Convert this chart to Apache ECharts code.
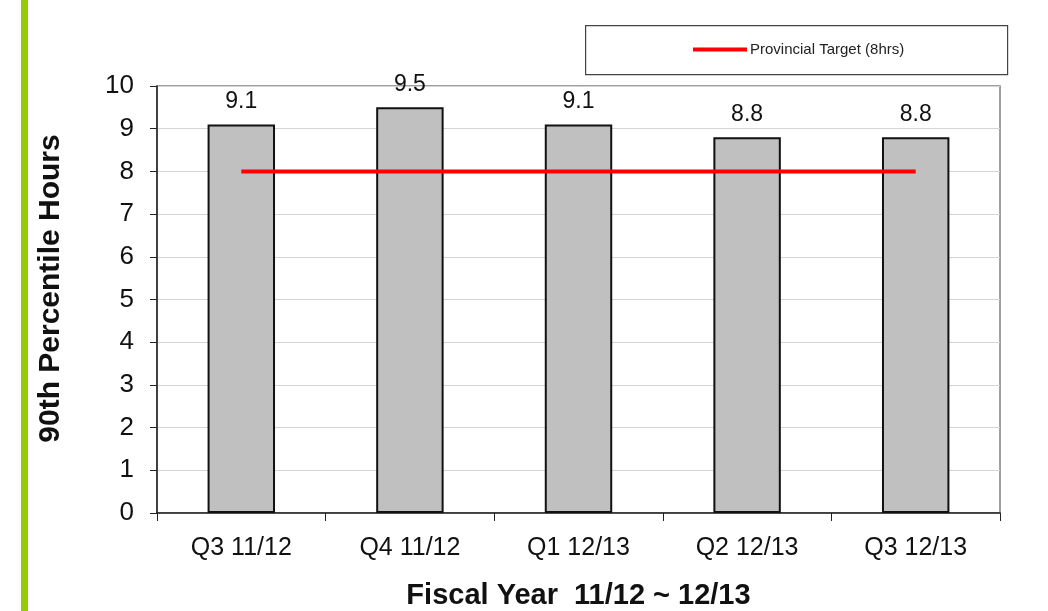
<!DOCTYPE html>
<html>
<head>
<meta charset="utf-8">
<script src="https://cdn.jsdelivr.net/npm/echarts@6/dist/echarts.min.js"></script>
<style>
  html, body { margin: 0; padding: 0; background: #fff; }
  #chart { width: 1048px; height: 611px; }
</style>
</head>
<body>
<div id="chart"></div>
<script>
// Quarterly 90th percentile hours vs. provincial target
const quarters = ['Q3 11/12', 'Q4 11/12', 'Q1 12/13', 'Q2 12/13', 'Q3 12/13'];
const hours = [9.1, 9.5, 9.1, 8.8, 8.8];
const target = [8, 8, 8, 8, 8];
const yTicks = { min: 0, max: 10, interval: 1 };

const font = '"Liberation Sans", Arial, sans-serif';
const chart = echarts.init(document.getElementById('chart'), null, { renderer: 'canvas' });

chart.setOption({
  animation: false,
  backgroundColor: '#ffffff',
  textStyle: { fontFamily: font },
  graphic: [
    { type: 'rect', left: 21, top: 0, shape: { width: 7, height: 611 }, style: { fill: '#99cc00' }, z: 0 },
    { type: 'rect', left: 585, top: 25, shape: { width: 422, height: 49 },
      style: { fill: '#ffffff', stroke: '#444444', lineWidth: 1.2 }, z: 0 }
  ],
  legend: {
    data: ['Provincial Target (8hrs)'],
    left: 688, top: 37,
    icon: 'rect', itemWidth: 54, itemHeight: 4, itemGap: 4,
    textStyle: { fontSize: 15, color: '#222', fontFamily: font, padding: [0, 0, 0, -2] },
    z: 5
  },
  grid: {
    left: 157, right: 48, top: 86, bottom: 98,
    outerBoundsMode: 'none',
    show: true, borderColor: '#808080', borderWidth: 1.5, backgroundColor: 'transparent'
  },
  xAxis: {
    type: 'category',
    data: quarters,
    boundaryGap: true,
    name: 'Fiscal Year  11/12 ~ 12/13',
    nameLocation: 'middle',
    nameGap: 68,
    nameTextStyle: { fontSize: 29, fontWeight: 'bold', color: '#111', fontFamily: font },
    axisLine: { lineStyle: { color: '#222', width: 1.5 } },
    axisTick: { show: true, length: 8, inside: false, lineStyle: { color: '#222' } },
    axisLabel: { fontSize: 25, color: '#111', margin: 23, fontFamily: font },
    splitLine: { show: false }
  },
  yAxis: {
    type: 'value',
    min: yTicks.min, max: yTicks.max, interval: yTicks.interval,
    name: '90th Percentile Hours',
    nameLocation: 'middle',
    nameGap: 91,
    nameRotate: 90,
    nameTextStyle: { fontSize: 30, fontWeight: 'bold', color: '#111', fontFamily: font, padding: [0, 0, 0, 22] },
    axisLine: { show: true, lineStyle: { color: '#222', width: 1.5 } },
    axisTick: { show: true, length: 7, inside: false, lineStyle: { color: '#222' } },
    axisLabel: { fontSize: 26, color: '#111', margin: 23, fontFamily: font },
    splitLine: { show: true, lineStyle: { color: '#d4d4d4', width: 1 } }
  },
  series: [
    {
      name: 'Hours',
      type: 'bar',
      data: hours,
      barWidth: '40%',
      itemStyle: { color: '#c0c0c0', borderColor: '#111', borderWidth: 2 },
      label: {
        show: true, position: 'top', distance: 11,
        fontSize: 23, color: '#111', fontFamily: font,
        formatter: p => p.value.toFixed(1)
      },
      z: 2
    },
    {
      name: 'Provincial Target (8hrs)',
      type: 'line',
      data: target,
      symbol: 'none',
      lineStyle: { color: '#ff0000', width: 4 },
      itemStyle: { color: '#ff0000' },
      z: 3
    }
  ]
});
</script>
</body>
</html>
